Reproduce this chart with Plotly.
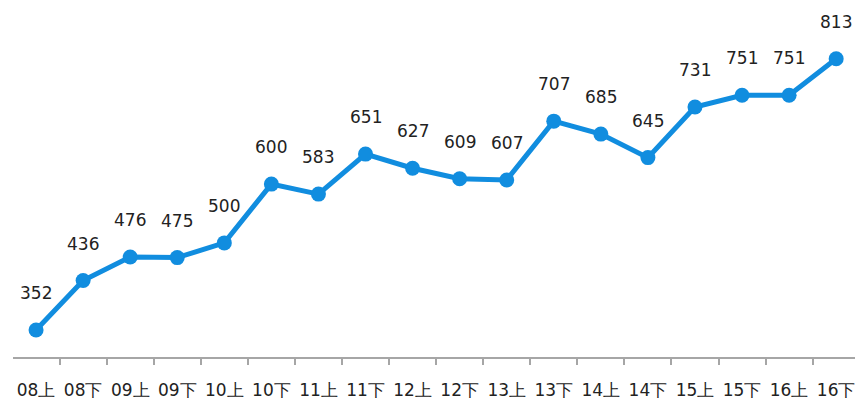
import plotly.graph_objects as go

categories = ["08上", "08下", "09上", "09下", "10上", "10下", "11上", "11下", "12上",
              "12下", "13上", "13下", "14上", "14下", "15上", "15下", "16上", "16下"]
values = [352, 436, 476, 475, 500, 600, 583, 651, 627, 609, 607, 707, 685, 645, 731, 751, 751, 813]

FONT = "DejaVu Sans"
BLUE = "#118DDF"

fig = go.Figure()
fig.add_trace(go.Scatter(
    x=categories, y=values,
    mode="lines+markers",
    line=dict(color=BLUE, width=5),
    marker=dict(color=BLUE, size=15),
    hoverinfo="skip",
))
for c, v in zip(categories, values):
    fig.add_annotation(x=c, y=v, text=str(v), showarrow=False, yshift=37,
                       font=dict(family=FONT, size=17, color="#222222"))

fig.update_layout(
    width=855, height=401,
    margin=dict(l=13, r=0, t=0, b=44, autoexpand=False),
    paper_bgcolor="white", plot_bgcolor="white",
    showlegend=False,
    xaxis=dict(
        type="category", range=[-0.49, 17.4],
        showline=True, linecolor="#A6A6A6", linewidth=1.5,
        ticks="outside", tickson="boundaries", ticklen=6, tickcolor="#A6A6A6", tickwidth=1.5,
        showgrid=False, zeroline=False, tickangle=0, automargin=False,
        ticklabelstandoff=17,
        tickfont=dict(family=FONT, size=17, color="#222222"),
    ),
    yaxis=dict(range=[306, 913], visible=False, showgrid=False, zeroline=False, automargin=False),
)
fig.write_html("out.html", post_script="document.body.style.margin='0';",
               config={"displayModeBar": False})
